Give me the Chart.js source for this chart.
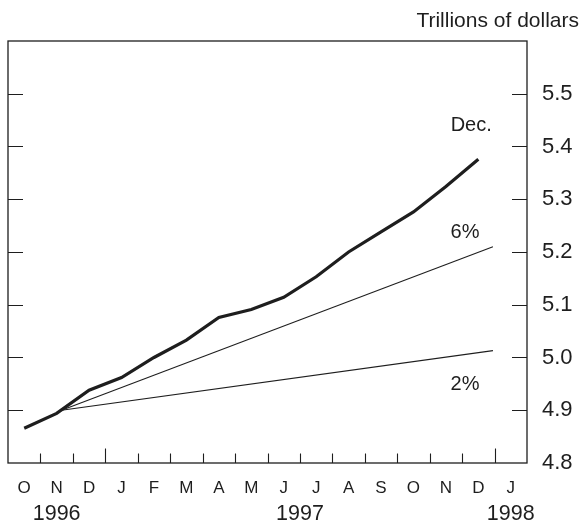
<!DOCTYPE html>
<html>
<head>
<meta charset="utf-8">
<script src="https://cdn.jsdelivr.net/npm/chart.js@4.4.0/dist/chart.umd.min.js"></script>
<style>
  html, body { margin: 0; padding: 0; background: #fff; }
</style>
</head>
<body>
<canvas id="m2-chart" width="581" height="523"></canvas>
<script>
// monthly categories, Oct 1996 .. Jan 1998
const months = ['O', 'N', 'D', 'J', 'F', 'M', 'A', 'M', 'J', 'J', 'A', 'S', 'O', 'N', 'D', 'J'];
const years = ['1996', '1997', '1998'];
const yearAt = [1, 8.5, 15];

// M2 level, trillions of dollars, Oct 1996 .. Dec 1997
const m2Level = [4.866, 4.894, 4.938, 4.962, 5.0, 5.033, 5.076, 5.091, 5.114, 5.153, 5.2, 5.238, 5.276, 5.324, 5.376];

// growth cone
const coneX = [1.15, 14.45];
const cone6 = [4.9, 5.21];
const cone2 = [4.9, 5.013];

const yTicks = [4.8, 4.9, 5.0, 5.1, 5.2, 5.3, 5.4, 5.5];

const notes = ['Dec.', '6%', '2%'];
const noteX = [13.78, 13.59, 13.59];
const noteY = [5.44, 5.237, 4.949];

const FONT = "'Liberation Sans', Arial, Helvetica, sans-serif";
const INK = '#1e1e1e';

const framePlugin = {
    id: 'frame',
    afterDraw(chart) {
        const ctx = chart.ctx;
        const xs = chart.scales.x;
        const ys = chart.scales.y;
        const a = chart.chartArea;
        ctx.save();
        ctx.strokeStyle = INK;
        ctx.lineWidth = 1.3;
        ctx.strokeRect(a.left, a.top, a.right - a.left, a.bottom - a.top);

        // month ticks, taller at year ends
        ctx.lineWidth = 1.1;
        ctx.beginPath();
        for (let k = 0; k < months.length - 1; k++) {
            const px = Math.round(xs.getPixelForValue(k + 0.5)) + 0.5;
            const len = months[k] === 'D' ? 14.5 : 9.5;
            ctx.moveTo(px, a.bottom);
            ctx.lineTo(px, a.bottom - len);
        }
        // value ticks on both sides
        yTicks.slice(1).forEach(v => {
            const py = Math.round(ys.getPixelForValue(v)) + 0.5;
            ctx.moveTo(a.left, py);
            ctx.lineTo(a.left + 15, py);
            ctx.moveTo(a.right, py);
            ctx.lineTo(a.right - 15, py);
        });
        ctx.stroke();

        ctx.fillStyle = INK;
        ctx.textAlign = 'center';
        ctx.textBaseline = 'alphabetic';
        ctx.font = '21.5px ' + FONT;
        years.forEach((t, i) => {
            ctx.fillText(t, xs.getPixelForValue(yearAt[i]), 520);
        });

        ctx.textBaseline = 'middle';
        ctx.font = '20px ' + FONT;
        notes.forEach((t, i) => {
            ctx.fillText(t, xs.getPixelForValue(noteX[i]), ys.getPixelForValue(noteY[i]));
        });

        ctx.textAlign = 'right';
        ctx.textBaseline = 'alphabetic';
        ctx.font = '21px ' + FONT;
        ctx.fillText('Trillions of dollars', 579, 27);
        ctx.restore();
    }
};

const ctx = document.getElementById('m2-chart').getContext('2d');
const m2Chart = new Chart(ctx, {
    type: 'line',
    data: {
        datasets: [{
            label: 'M2',
            data: m2Level.map((v, i) => ({ x: i, y: v })),
            borderColor: INK,
            borderWidth: 3.2,
            pointRadius: 0,
            tension: 0
        }, {
            label: '6%',
            data: coneX.map((x, i) => ({ x: x, y: cone6[i] })),
            borderColor: INK,
            borderWidth: 1.1,
            pointRadius: 0
        }, {
            label: '2%',
            data: coneX.map((x, i) => ({ x: x, y: cone2[i] })),
            borderColor: INK,
            borderWidth: 1.1,
            pointRadius: 0
        }]
    },
    options: {
        responsive: false,
        animation: false,
        layout: { padding: { top: 41, left: 8, right: 0, bottom: 0 } },
        plugins: {
            legend: { display: false },
            tooltip: { enabled: false }
        },
        scales: {
            x: {
                type: 'linear',
                min: -0.5,
                max: 15.5,
                grid: { display: false, drawTicks: false },
                border: { display: false },
                afterBuildTicks: s => { s.ticks = months.map((m, i) => ({ value: i })); },
                afterFit: s => { s.height = 60; },
                ticks: {
                    autoSkip: false,
                    maxRotation: 0,
                    padding: 15,
                    color: INK,
                    font: { family: FONT, size: 17 },
                    callback: v => months[v]
                }
            },
            y: {
                position: 'right',
                min: 4.8,
                max: 5.6,
                grid: { display: false, drawTicks: false },
                border: { display: false },
                afterBuildTicks: s => { s.ticks = yTicks.map(v => ({ value: v })); },
                afterFit: s => { s.width = 54; },
                ticks: {
                    padding: 15,
                    color: INK,
                    font: { family: FONT, size: 22 },
                    callback: v => v.toFixed(1)
                }
            }
        }
    },
    plugins: [framePlugin]
});
</script>
</body>
</html>
